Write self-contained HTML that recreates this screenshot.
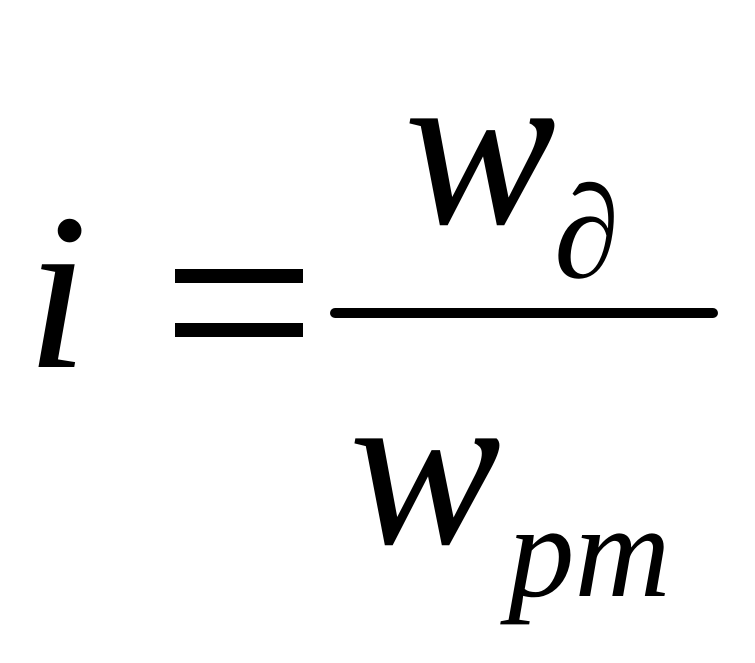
<!DOCTYPE html>
<html>
<head>
<meta charset="utf-8">
<style>
  html, body { margin: 0; padding: 0; background: #fff; }
  body { width: 755px; height: 663px; overflow: hidden; }
  svg { display: block; }
  text { font-family: "Liberation Serif", "DejaVu Serif", serif; font-style: italic; fill: #000; }
</style>
</head>
<body>
<svg width="755" height="663" viewBox="0 0 755 663" xmlns="http://www.w3.org/2000/svg">
  <rect width="755" height="663" fill="#fff"/>
  <!-- i -->
  <text x="26" y="367" font-size="224">i</text>
  <!-- = -->
  <rect x="175" y="269" width="128" height="14" fill="#000"/>
  <rect x="175" y="323" width="128" height="14" fill="#000"/>
  <!-- fraction bar -->
  <line x1="335" y1="313" x2="713" y2="313" stroke="#000" stroke-width="10" stroke-linecap="round"/>
  <!-- numerator -->
  <text x="404" y="223" font-size="228">w</text>
  <text x="554" y="277" font-size="132">∂</text>
  <!-- denominator -->
  <text x="349" y="543" font-size="228">w</text>
  <text x="508" y="596" font-size="133">pm</text>
</svg>
</body>
</html>
